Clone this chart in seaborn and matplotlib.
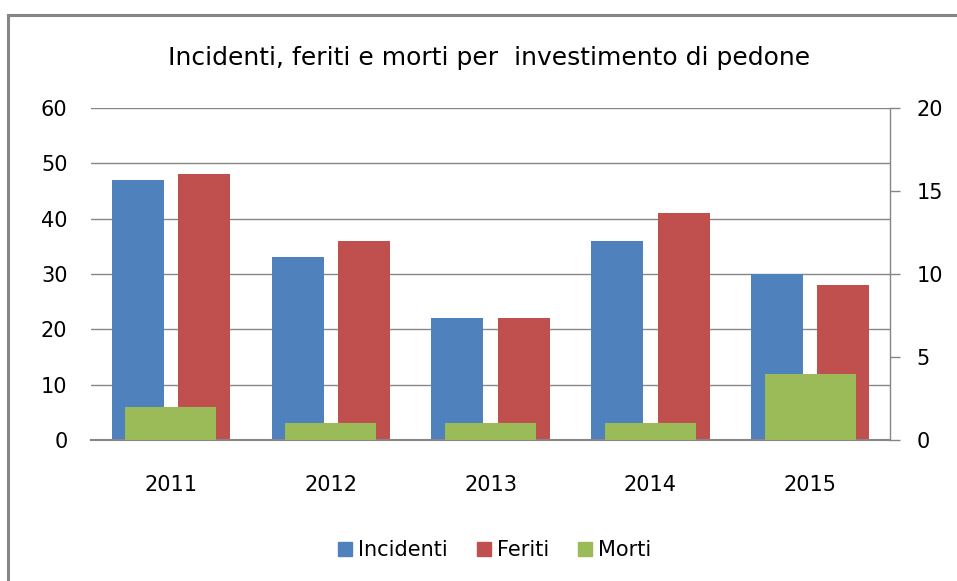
import pandas as pd
import seaborn as sns
import matplotlib.pyplot as plt
from matplotlib.patches import Rectangle, Patch

anni = ["2011", "2012", "2013", "2014", "2015"]
incidenti = [47, 33, 22, 36, 30]
feriti = [48, 36, 22, 41, 28]
morti = [2, 1, 1, 1, 4]

blu = "#4F81BD"
rosso = "#C0504D"
verde = "#9BBB59"
grigio = "#868686"

sns.set_theme(style="white")
plt.rcParams["font.family"] = ["DejaVu Sans"]
plt.rcParams["text.color"] = "black"

df = pd.DataFrame({
    "anno": anni * 2,
    "valore": incidenti + feriti,
    "serie": ["Incidenti"] * len(anni) + ["Feriti"] * len(anni),
})
df_morti = pd.DataFrame({"anno": anni, "valore": morti})

fig = plt.figure(figsize=(9.57, 5.81), dpi=100)
ax = fig.add_axes([0.0951, 0.2427, 0.835, 0.5714])

sns.barplot(data=df, x="anno", y="valore", hue="serie",
            palette={"Incidenti": blu, "Feriti": rosso},
            width=0.83, gap=0.217, saturation=1, linewidth=0,
            legend=False, ax=ax)

ax2 = ax.twinx()
sns.barplot(data=df_morti, x="anno", y="valore", color=verde,
            width=0.57, saturation=1, linewidth=0, ax=ax2)

ax.set_xlim(-0.5, 4.5)
ax.set_ylim(0, 60)
ax2.set_ylim(0, 20)
ax.set_yticks(range(0, 61, 10))
ax2.set_yticks(range(0, 21, 5))
ax.set_xlabel("")
ax.set_ylabel("")
ax2.set_ylabel("")

ax.grid(axis="y", color=grigio, linewidth=1)
ax.set_axisbelow(True)
for s in ["top", "left", "right"]:
    ax.spines[s].set_visible(False)
ax.spines["bottom"].set_color(grigio)
ax.spines["bottom"].set_linewidth(1.5)
for s in ["top", "left", "bottom"]:
    ax2.spines[s].set_visible(False)
ax2.spines["right"].set_color(grigio)
ax2.spines["right"].set_linewidth(1)

ax.tick_params(axis="y", length=0, pad=17, labelsize=15, colors="black")
ax.tick_params(axis="x", length=0, pad=25, labelsize=15, colors="black")
ax2.tick_params(axis="y", direction="out", length=7, width=1,
                pad=12, labelsize=15, colors=grigio, labelcolor="black")

fig.text(0.511, 0.9, "Incidenti, feriti e morti per  investimento di pedone",
         ha="center", va="center", fontsize=18, color="black")

handles = [Patch(color=blu, label="Incidenti"),
           Patch(color=rosso, label="Feriti"),
           Patch(color=verde, label="Morti")]
fig.legend(handles=handles, loc="center", bbox_to_anchor=(0.517, 0.053), ncol=3,
           frameon=False, fontsize=15, handlelength=0.65, handleheight=0.65,
           handletextpad=0.3, columnspacing=1.4, labelcolor="black")

fig.patches.append(Rectangle((8 / 957, -0.05), 1.1, 1 - 15 / 581 + 0.05,
                             transform=fig.transFigure, fill=False,
                             edgecolor=grigio, linewidth=2.2))

fig.savefig("out.png", dpi=100)
